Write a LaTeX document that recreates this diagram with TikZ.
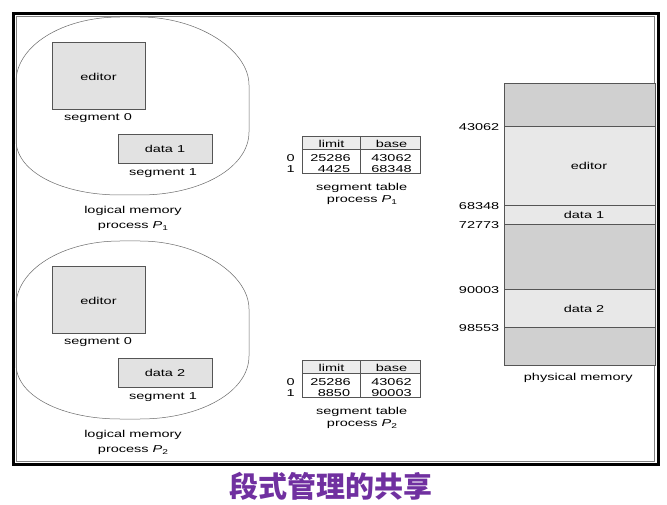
\documentclass[tikz,border=0pt]{standalone}
\usepackage{fontspec}
\setmainfont{Liberation Sans}[FakeStretch=1.45]
\newfontfamily\cjk{Noto Sans CJK SC}
\definecolor{boxfill}{HTML}{E2E2E2}
\definecolor{darkmem}{HTML}{D0D0D0}
\definecolor{lightmem}{HTML}{E8E8E8}
\definecolor{hdrfill}{HTML}{ECECEC}
\definecolor{edge}{HTML}{555555}
\definecolor{blobline}{HTML}{6A6A6A}
\definecolor{titlepurple}{HTML}{7030A0}
\newcommand{\procP}[1]{process \textit{P}\raisebox{-0.45ex}{\fontsize{7}{7}\selectfont #1}}
\begin{document}
\begin{tikzpicture}[x=1pt,y=-1pt,
  every node/.style={inner sep=0pt, font=\fontsize{10}{11}\selectfont},
  segbox/.style={draw=edge, fill=boxfill, line width=0.6pt},
  blob/.style={draw=blobline, line width=0.5pt},
  tbl/.style={draw=edge, line width=0.6pt},
  lbl/.style={anchor=center}]
\useasboundingbox (0,0) rectangle (667,505);
\fill[white] (0,0) rectangle (667,505);

% frame
\draw[line width=3pt] (13.5,13.5) rectangle (658.5,464.5);
\draw[gray, line width=0.8pt] (16.5,16.5) rectangle (654.5,461);

% logical memories
\foreach \dy/\d in {0/1, 224/2}{
\begin{scope}[shift={(0,\dy)}]
  \draw[blob] (16,82) .. controls (16,46) and (62,17) .. (120,17) -- (140,17)
     .. controls (198,17) and (249,50) .. (249,85) -- (249,132)
     .. controls (249,168) and (200,195) .. (140,195) -- (120,195)
     .. controls (62,195) and (16,172) .. (16,140) -- cycle;
  \draw[segbox] (52,42) rectangle (145,109);
  \node (ed\d) at (98.5,77) {editor};
  \node (sz\d) at (98,118) {segment 0};
  \draw[segbox] (118,134) rectangle (212,163);
  \node (da\d) at (165,149) {data \d};
  \node (so\d) at (163,173) {segment 1};
  \node (lm\d) at (133,211) {logical memory};
  \node (pr\d) at (133,226) {\procP{\d}};
\end{scope}
}

% segment tables
\foreach \dy/\d/\la/\ba in {0/1/4425/68348, 224/2/8850/90003}{
\begin{scope}[shift={(0,\dy)}]
  \fill[hdrfill] (302,136) rectangle (420.5,149);
  \draw[tbl] (302,136) rectangle (420.5,173.5);
  \draw[tbl] (302,149) -- (420.5,149);
  \draw[tbl] (360.7,136) -- (360.7,173.5);
  \node (lim\d) at (331.5,143.5) {limit};
  \node (bas\d) at (391.5,143.5) {base};
  \node (rz\d) at (290.7,158.3) {0};
  \node (ro\d) at (290.7,169.3) {1};
  \node (l0\d) at (330.5,158.3) {25286};
  \node[anchor=east] (l1\d) at (350.3,169.3) {\la};
  \node (b0\d) at (391.5,158.3) {43062};
  \node (b1\d) at (391.5,169.3) {\ba};
  \node (st\d) at (361.7,187.5) {segment table};
  \node (sp\d) at (362,200) {\procP{\d}};
\end{scope}
}

% physical memory
\fill[darkmem] (504,83.3) rectangle (655,126);
\fill[lightmem] (504,126) rectangle (655,224.3);
\fill[darkmem] (504,224.3) rectangle (655,289.3);
\fill[lightmem] (504,289.3) rectangle (655,327.3);
\fill[darkmem] (504,327.3) rectangle (655,365);
\draw[edge, line width=0.6pt] (504,83.3) rectangle (655,365);
\foreach \yy in {126,205.3,224.3,289.3,327.3}
  \draw[edge, line width=0.6pt] (504,\yy) -- (655,\yy);
\node (pe) at (589,165.7) {editor};
\node (pd1) at (584,215.3) {data 1};
\node (pd2) at (584,308.5) {data 2};
\node (pm) at (578.3,378) {physical memory};
\node[anchor=east] (a1) at (499.5,127) {43062};
\node[anchor=east] (a2) at (499.5,206) {68348};
\node[anchor=east] (a3) at (499.5,225.5) {72773};
\node[anchor=east] (a4) at (499.5,290) {90003};
\node[anchor=east] (a5) at (499.5,328) {98553};

% title
\node[text=titlepurple, font=\cjk\bfseries\fontsize{29}{29}\selectfont] (title) at (331,486) {段式管理的共享};
\end{tikzpicture}
\end{document}
